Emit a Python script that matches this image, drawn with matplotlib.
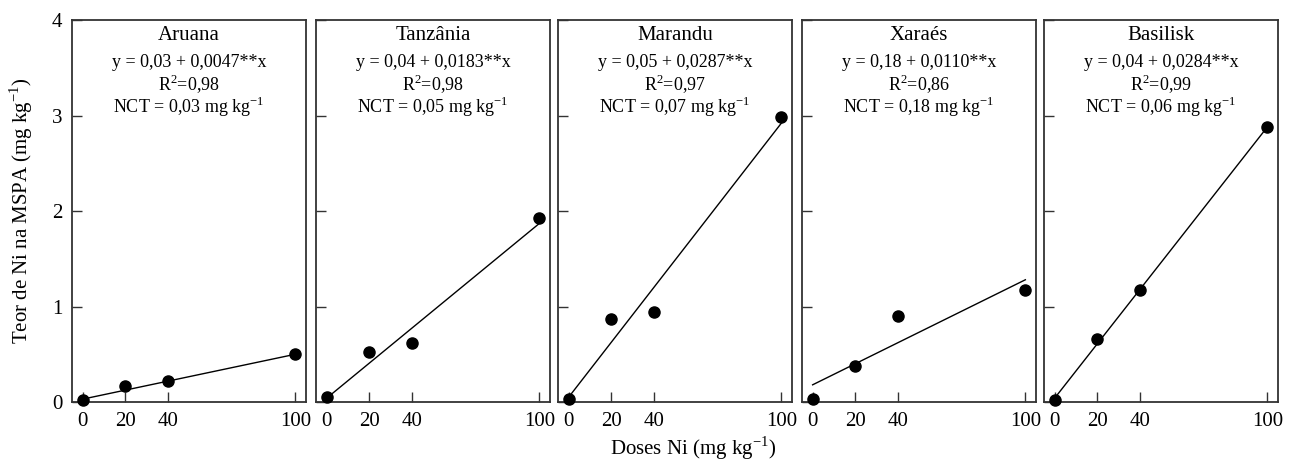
import matplotlib
matplotlib.use("Agg")
import matplotlib.pyplot as plt
import numpy as np

plt.rcParams['font.family'] = ['Liberation Serif', 'DejaVu Serif']
plt.rcParams['mathtext.fontset'] = 'custom'
plt.rcParams['mathtext.rm'] = 'Liberation Serif'

doses = [0, 20, 40, 100]
cultivars = ["Aruana", "Tanzânia", "Marandu", "Xaraés", "Basilisk"]
aruana = [0.02, 0.17, 0.22, 0.50]
tanzania = [0.05, 0.52, 0.62, 1.93]
marandu = [0.03, 0.87, 0.94, 2.98]
xaraes = [0.03, 0.38, 0.90, 1.17]
basilisk = [0.02, 0.66, 1.17, 2.88]
series = [aruana, tanzania, marandu, xaraes, basilisk]
intercepts = [0.03, 0.04, 0.05, 0.18, 0.04]
slopes = [0.0047, 0.0183, 0.0287, 0.0110, 0.0284]
eq_texts = ["y = 0,03 + 0,0047**x", "y = 0,04 + 0,0183**x", "y = 0,05 + 0,0287**x",
            "y = 0,18 + 0,0110**x", "y = 0,04 + 0,0284**x"]
r2_texts = ["0,98", "0,98", "0,97", "0,86", "0,99"]
nct_texts = ["0,03", "0,05", "0,07", "0,18", "0,06"]
yticks = [0, 1, 2, 3, 4]

W, H = 1294, 462
fig = plt.figure(figsize=(W / 100, H / 100), dpi=100)
lefts = [72, 316, 558, 802, 1044]
aw = 234
bottom = 60
ah = 382
spine_col = '#333333'

for i, left in enumerate(lefts):
    ax = fig.add_axes([left / W, bottom / H, aw / W, ah / H])
    xs = np.array([0, 100])
    ax.plot(xs, intercepts[i] + slopes[i] * xs, color='black', lw=1.0)
    ax.plot(doses, series[i], 'o', color='black', ms=8, clip_on=False, zorder=5)
    ax.set_xlim(-5, 105)
    ax.set_ylim(0, 4)
    ax.set_xticks(doses)
    ax.set_xticklabels([str(d) for d in doses], fontsize=15)
    ax.set_yticks(yticks)
    if i == 0:
        ax.set_yticklabels([str(t) for t in yticks], fontsize=15)
        ax.set_ylabel(r'Teor de Ni na MSPA (mg kg$^{\mathregular{-1}}$)', fontsize=15, labelpad=12)
    else:
        ax.set_yticklabels([])
    ax.tick_params(direction='in', length=7, width=1.0, color=spine_col, pad=7)
    for s in ax.spines.values():
        s.set_color(spine_col)
        s.set_linewidth(1.3)
    ax.text(0.5, 0.948, cultivars[i], transform=ax.transAxes, ha='center', va='baseline', fontsize=15)
    ax.text(0.5, 0.878, eq_texts[i], transform=ax.transAxes, ha='center', va='baseline', fontsize=13)
    ax.text(0.5, 0.817, r'R$^{\mathregular{2}}$=' + r2_texts[i], transform=ax.transAxes,
            ha='center', va='baseline', fontsize=13)
    ax.text(0.5, 0.756, 'NCT = ' + nct_texts[i] + r' mg kg$^{\mathregular{-1}}$', transform=ax.transAxes,
            ha='center', va='baseline', fontsize=13)

fig.text(693 / W, 1 - 448 / H, r'Doses Ni (mg kg$^{\mathregular{-1}}$)', ha='center', va='center', fontsize=15)

fig.savefig('out.png', dpi=100)
